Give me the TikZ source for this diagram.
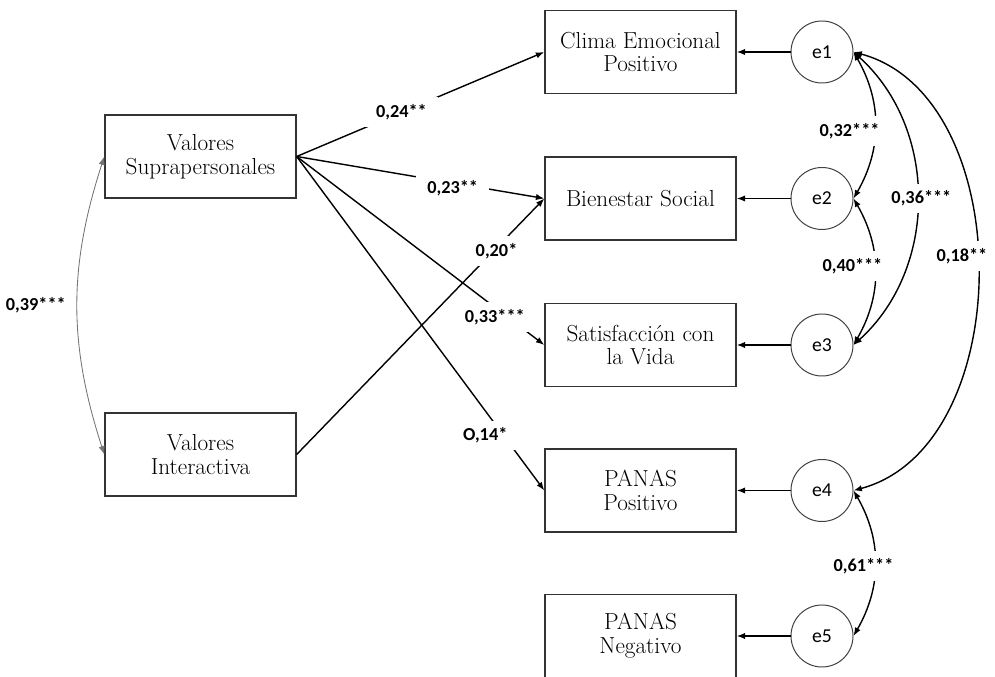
\documentclass[tikz,border=0pt]{standalone}
\usepackage{fontspec}
\newfontfamily\lblfont{Carlito}
\usetikzlibrary{arrows.meta}

\begin{document}
\begin{tikzpicture}[x=0.025cm,y=0.025cm,
  caja/.style={draw=black!80,line width=0.9pt,minimum width=4.775cm,minimum height=2.075cm,
    inner sep=0pt,align=center,font=\fontsize{16.5}{17}\selectfont},
  err/.style={circle,draw=black!75,line width=0.7pt,minimum size=1.55cm,inner sep=0pt,
    font=\lblfont\fontsize{14}{16}\selectfont},
  flecha/.style={line width=1pt,-{Latex[length=6pt,width=4.5pt]}},
  cov/.style={line width=1pt,{Latex[length=6pt,width=4.5pt]}-{Latex[length=6pt,width=4.5pt]}},
  coef/.style={fill=white,inner xsep=8pt,inner ysep=5pt,font=\lblfont\bfseries\fontsize{13}{15}\selectfont}]
\useasboundingbox (0,0) rectangle (995,677);
% variables exogenas
\node[caja] (sup) at (200.5,520.5) {Valores\\Suprapersonales};
\node[caja] (int) at (200.5,222.5) {Valores\\Interactiva};
% variables endogenas
\node[caja] (clima) at (640.5,625) {Clima Emocional\\Positivo};
\node[caja] (bien) at (640.5,478.5) {Bienestar Social};
\node[caja] (satis) at (640.5,332) {Satisfacción con\\la Vida};
\node[caja] (ppos) at (640.5,186.5) {PANAS\\Positivo};
\node[caja] (pneg) at (640.5,41) {PANAS\\Negativo};
% errores
\foreach \i/\y in {1/625,2/478.5,3/332,4/186.5,5/41}
  \node[err] (e\i) at (822,\y) {e\i};
\foreach \i/\b in {1/clima,2/bien,3/satis,4/ppos,5/pneg}
  \draw[flecha] (e\i) -- (\b);
% coeficientes
\draw[flecha] (sup.east) -- node[coef,pos=0.423] {0,24**} (clima.west);
\draw[flecha] (sup.east) -- node[coef,pos=0.63,yshift=-3.5pt] {0,23**} (bien.west);
\draw[flecha] (int.east) -- node[coef,pos=0.807,yshift=-2pt] {0,20*} (bien.west);
\draw[flecha] (sup.east) -- node[coef,pos=0.8,yshift=-7pt] {0,33***} (satis.west);
\draw[flecha] (sup.east) -- node[coef,pos=0.835,xshift=-13pt] {O,14*} (ppos.west);
% covarianzas
\draw[cov,line width=0.6pt,draw=black!55] (sup.west) to[out=-108,in=108]
  node[coef,pos=0.5,left,fill=none] {0,39***} (int.west);
\draw[cov] (e1.east) to[out=-60,in=60] node[coef,pos=0.5,xshift=-18pt,yshift=-4pt] {0,32***} (e2.east);
\draw[cov] (e2.east) to[out=-60,in=60] node[coef,pos=0.5,xshift=-16pt,yshift=4pt] {0,40***} (e3.east);
\draw[cov] (e1.east) to[out=-42,in=42] node[coef,pos=0.5,xshift=3pt] {0,36***} (e3.east);
\draw[cov] (e1.east) to[out=-15,in=15] node[coef,pos=0.5,xshift=-11pt,yshift=11pt] {0,18**} (e4.east);
\draw[cov] (e4.east) to[out=-60,in=60] node[coef,pos=0.5,xshift=-8pt,yshift=-2pt] {0,61***} (e5.east);
\end{tikzpicture}
\end{document}
